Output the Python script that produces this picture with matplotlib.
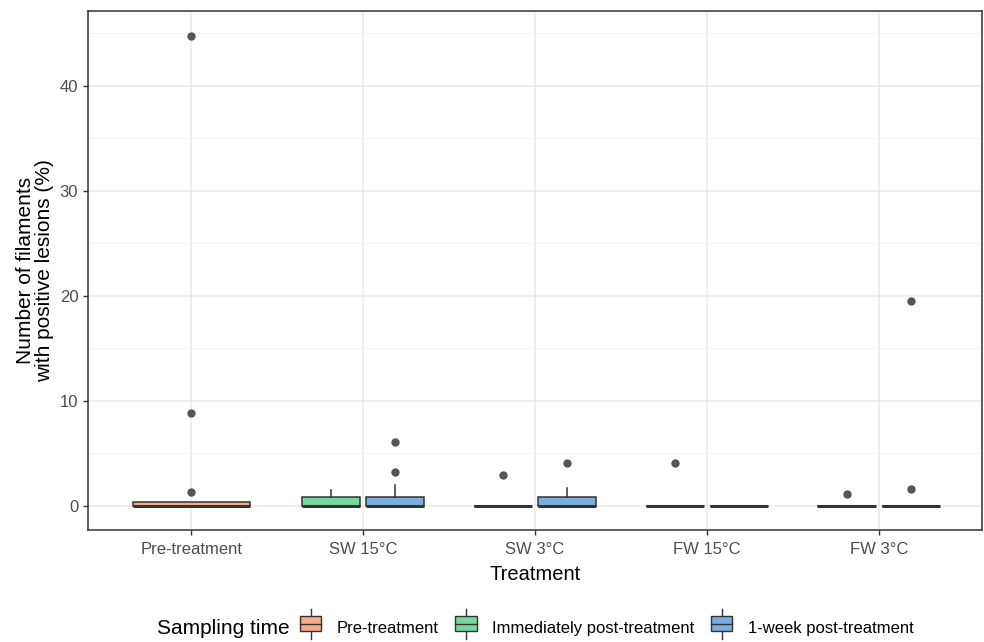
import matplotlib
matplotlib.use("Agg")
import matplotlib.pyplot as plt
import numpy as np
from matplotlib.patches import Patch, Rectangle
from matplotlib.legend_handler import HandlerBase
from matplotlib.lines import Line2D
from matplotlib.offsetbox import HPacker

plt.rcParams["font.family"] = ["Liberation Sans", "DejaVu Sans"]

treatments = ["Pre-treatment", "SW 15°C", "SW 3°C", "FW 15°C", "FW 3°C"]
times = ["Pre-treatment", "Immediately post-treatment", "1-week post-treatment"]
colors = ["#F9A98B", "#78D89C", "#7AAEDF"]

# box stats per (treatment, sampling time): q1, median, q3, whisker low, whisker high, outliers
box_stats = [
    ("Pre-treatment", "Pre-treatment", 0.0, 0.0, 0.35, 0.0, 0.35, [44.7, 8.8, 1.3]),
    ("SW 15°C", "Immediately post-treatment", 0.0, 0.0, 0.8, 0.0, 1.5, []),
    ("SW 15°C", "1-week post-treatment", 0.0, 0.0, 0.8, 0.0, 2.0, [6.1, 3.2]),
    ("SW 3°C", "Immediately post-treatment", 0.0, 0.0, 0.0, 0.0, 0.0, [2.9]),
    ("SW 3°C", "1-week post-treatment", 0.0, 0.0, 0.8, 0.0, 1.7, [4.1]),
    ("FW 15°C", "Immediately post-treatment", 0.0, 0.0, 0.0, 0.0, 0.0, [4.1]),
    ("FW 15°C", "1-week post-treatment", 0.0, 0.0, 0.0, 0.0, 0.0, []),
    ("FW 3°C", "Immediately post-treatment", 0.0, 0.0, 0.0, 0.0, 0.0, [1.1]),
    ("FW 3°C", "1-week post-treatment", 0.0, 0.0, 0.0, 0.0, 0.0, [1.6, 19.5]),
]

fig = plt.figure(figsize=(9.84, 6.42), dpi=100)
ax = fig.add_axes([88 / 984, 1 - 530 / 642, (982 - 88) / 984, (530 - 11) / 642])

grey = "#333333"
for treat in treatments:
    rows = [r for r in box_stats if r[0] == treat]
    xc = treatments.index(treat) + 1
    if len(rows) == 1:
        offsets, width = [0.0], 0.68
    else:
        offsets, width = [-0.187, 0.187], 0.34
    for off, r in zip(offsets, rows):
        _, t, q1, med, q3, lo, hi, fl = r
        stat = dict(q1=q1, med=med, q3=q3, whislo=lo, whishi=hi, fliers=fl)
        ax.bxp([stat], positions=[xc + off], widths=width, patch_artist=True,
               showcaps=False, manage_ticks=False,
               boxprops=dict(facecolor=colors[times.index(t)], edgecolor=grey, linewidth=1.1),
               medianprops=dict(color=grey, linewidth=2.2),
               whiskerprops=dict(color=grey, linewidth=1.1),
               flierprops=dict(marker="o", markerfacecolor="#555555", markeredgecolor="#555555",
                               markersize=5))

ax.set_xlim(0.4, 5.6)
ax.set_ylim(-2.3, 47.1)
ax.set_xticks(range(1, 6))
ax.set_xticklabels(treatments)
ax.set_yticks([0, 10, 20, 30, 40])
ax.set_yticks([5, 15, 25, 35, 45], minor=True)
ax.grid(True, which="major", color="#EBEBEB", linewidth=1.1)
ax.grid(True, which="minor", axis="y", color="#F2F2F2", linewidth=0.6)
ax.set_axisbelow(True)
ax.tick_params(axis="both", which="major", labelsize=12, labelcolor="#4D4D4D",
               color="#333333", length=3.5, width=1)
ax.tick_params(axis="x", pad=5)
ax.tick_params(which="minor", length=0)
for s in ax.spines.values():
    s.set_color("#333333")
    s.set_linewidth(1.1)

ax.set_xlabel("Treatment", fontsize=14.5, labelpad=6)
ax.set_ylabel("Number of filaments\nwith positive lesions (%)", fontsize=15, labelpad=4,
              linespacing=1.0)


class BoxHandler(HandlerBase):
    def __init__(self, color):
        super().__init__()
        self.color = color

    def create_artists(self, legend, orig, xd, yd, w, h, fontsize, trans):
        cx = xd + w / 2
        bw = w * 0.85
        rect = Rectangle((cx - bw / 2, yd), bw, h, facecolor=self.color,
                         edgecolor=grey, linewidth=1, transform=trans)
        med = Line2D([cx - bw / 2, cx + bw / 2], [yd + h / 2] * 2, color=grey, lw=1, transform=trans)
        wt = Line2D([cx, cx], [yd + h, yd + h * 1.5], color=grey, lw=1, transform=trans)
        wb = Line2D([cx, cx], [yd, yd - h * 0.5], color=grey, lw=1, transform=trans)
        return [rect, med, wt, wb]


handles = [Patch(facecolor=c, label=t) for c, t in zip(colors, times)]
leg = fig.legend(handles=handles, labels=times, loc="center", bbox_to_anchor=(0.544, 1 - 628 / 642),
                 ncol=3, frameon=False, fontsize=12, title="Sampling time", title_fontsize=15,
                 handler_map={h: BoxHandler(c) for h, c in zip(handles, colors)},
                 handlelength=1.5, handleheight=1.0, handletextpad=0.8, columnspacing=0.9)
# put title inline with entries
title_box = leg._legend_title_box
entries = leg._legend_handle_box
leg._legend_box._children = [HPacker(pad=0, sep=6, children=[title_box, entries], align="center")]

fig.savefig("out.png", dpi=100)
